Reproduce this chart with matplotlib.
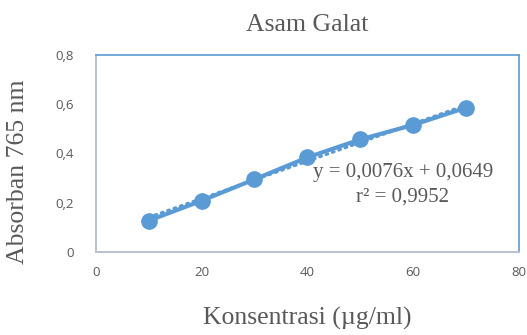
import matplotlib
matplotlib.use("Agg")
import matplotlib.pyplot as plt
import numpy as np

konsentrasi = [10, 20, 30, 40, 50, 60, 70]
absorban = [0.127, 0.208, 0.295, 0.384, 0.457, 0.516, 0.586]
slope = 0.0076
intercept = 0.0649
eq_text = "y = 0,0076x + 0,0649"
r2_text = "r² = 0,9952"
xticks = [0, 20, 40, 60, 80]
yticks = [0, 0.2, 0.4, 0.6, 0.8]
ytick_labels = ["0", "0,2", "0,4", "0,6", "0,8"]

blue = "#5B9BD5"
gray = "#595959"
serif = ["Liberation Serif", "DejaVu Serif"]
sans = ["Open Sans", "DejaVu Sans"]

W, H = 527, 335
fig = plt.figure(figsize=(W/100, H/100), dpi=100)
ax = fig.add_axes([95.7/W, 1-252/H, (519-95.7)/W, (252-55)/H])

# trendline (dotted)
xt = np.array([konsentrasi[0], konsentrasi[-1]])
ax.plot(xt, slope*xt + intercept, color=blue, lw=2.2, ls=(0, (0.6, 1.6)),
        dash_capstyle="round", zorder=2)
ax.plot(konsentrasi, absorban, color=blue, lw=3.0, marker="o", ms=11,
        solid_capstyle="round", zorder=3, clip_on=False)

ax.set_xlim(0, 80)
ax.set_ylim(0, 0.8)
ax.set_xticks(xticks)
ax.set_xticklabels([str(v) for v in xticks])
ax.set_yticks(yticks)
ax.set_yticklabels(ytick_labels)
ax.tick_params(length=0, labelsize=9.5, labelcolor=gray)
ax.tick_params(axis="y", pad=16)
ax.tick_params(axis="x", pad=10)
for lab in ax.get_xticklabels() + ax.get_yticklabels():
    lab.set_family(sans)

for s in ["top", "right"]:
    ax.spines[s].set_color(blue)
    ax.spines[s].set_linewidth(1.2)
for s in ["left", "bottom"]:
    ax.spines[s].set_color("#B8C2CC")
    ax.spines[s].set_linewidth(1.4)

fig.text(307.5/W, 1-25/H, "Asam Galat", family=serif, fontsize=18.5, color=gray,
         ha="center", va="center")
fig.text(307/W, 1-318/H, "Konsentrasi (µg/ml)", family=serif, fontsize=18.5, color=gray,
         ha="center", va="center")
fig.text(18/W, 1-172/H, "Absorban 765 nm", family=serif, fontsize=18.5, color=gray,
         ha="center", va="center", rotation=90)

fig.text(403/W, 1-173/H, eq_text, family=serif, fontsize=15, color=gray,
         ha="center", va="center")
fig.text(403/W, 1-197/H, r2_text, family=serif, fontsize=15, color=gray,
         ha="center", va="center")

fig.savefig("out.png", dpi=100)
